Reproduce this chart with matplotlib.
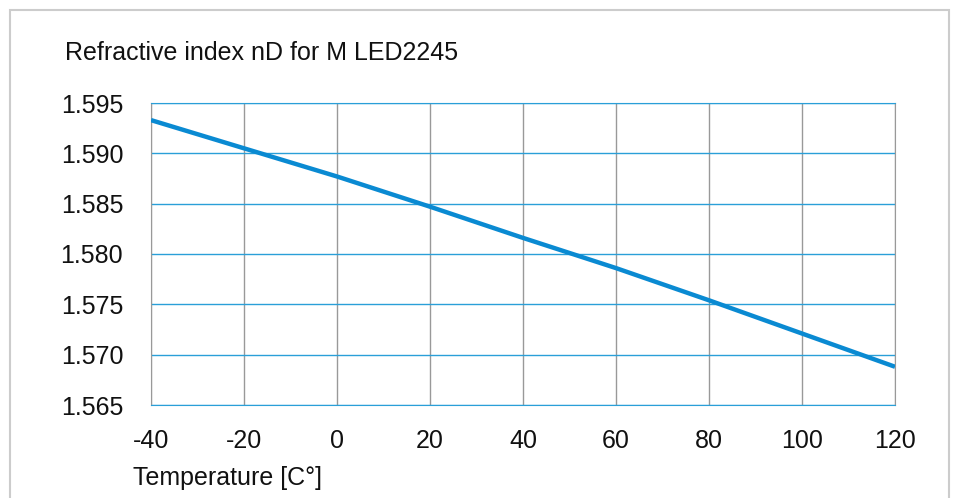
import matplotlib.pyplot as plt
from matplotlib.patches import Rectangle

plt.rcParams['font.family'] = ['Liberation Sans', 'DejaVu Sans']
plt.rcParams['axes.unicode_minus'] = False

# データ
temps = [-40, -20, 0, 20, 40, 60, 80, 100, 120]
nd = [1.5933, 1.5905, 1.5877, 1.5847, 1.5816, 1.5786, 1.5754, 1.5721, 1.5688]
xticks = [-40, -20, 0, 20, 40, 60, 80, 100, 120]
yticks = [1.565, 1.570, 1.575, 1.580, 1.585, 1.590, 1.595]

fig = plt.figure(figsize=(9.54, 4.98), dpi=100)
ax = fig.add_axes([151/954, 1 - 405/498, 744/954, 302/498])

# 外枠
fig.patches.append(Rectangle((10.5/954, -0.1), 939/954, 1.1 - 10/498,
                             transform=fig.transFigure, fill=False,
                             edgecolor='#cccccc', linewidth=1.5))

ax.plot(temps, nd, color='#0a8ad2', linewidth=3.2, solid_capstyle='butt', zorder=3)

ax.set_xlim(-40, 120)
ax.set_ylim(1.565, 1.595)
ax.set_xticks(xticks)
ax.set_yticks(yticks)
ax.set_yticklabels([f'{v:.3f}' for v in yticks])
ax.tick_params(length=0, labelsize=18, colors='#111111')
ax.tick_params(axis='y', pad=20)
ax.tick_params(axis='x', pad=17)

# グリッド
ax.yaxis.grid(True, color='#2a9fd8', linewidth=1.0)
ax.xaxis.grid(True, color='#999999', linewidth=1.0)
ax.set_axisbelow(True)
for s in ['left', 'right']:
    ax.spines[s].set_color('#999999')
for s in ['top', 'bottom']:
    ax.spines[s].set_color('#2a9fd8')
    ax.spines[s].set_zorder(2.5)

fig.text(65/954, 1 - 60/498, 'Refractive index nD for M LED2245',
         fontsize=18, color='#111111', ha='left', va='baseline')
fig.text(133/954, 1 - 485/498, 'Temperature [C°]',
         fontsize=18, color='#111111', ha='left', va='baseline')

plt.savefig('out.png', dpi=100)
